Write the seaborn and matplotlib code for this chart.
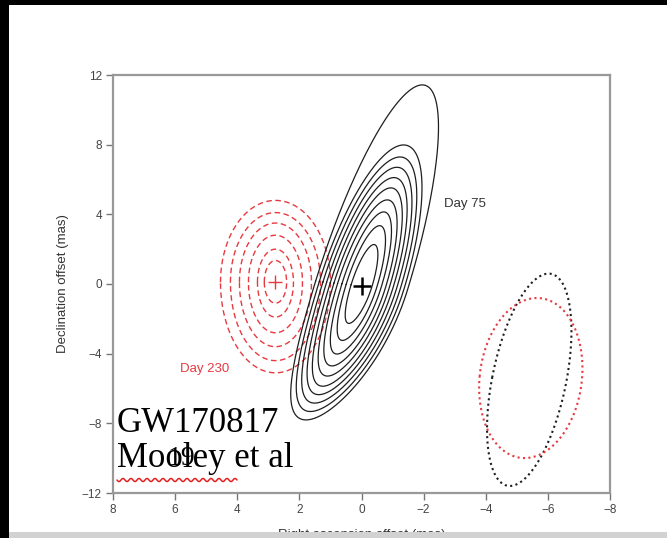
import numpy as np
import pandas as pd
import matplotlib
matplotlib.use("Agg")
import matplotlib.pyplot as plt
import seaborn as sns
from matplotlib.patches import Rectangle
from matplotlib.lines import Line2D

# ---------------- data ----------------
# Day 75 contours (black, solid): centre, extent up/down along the major axis, half-width
day75_center = [0.0, -0.1]
day75_up = [11.7, 8.2, 7.5, 6.9, 6.3, 5.7, 5.0, 4.3, 3.5, 2.4]
day75_down = [7.9, 7.4, 6.9, 6.4, 5.9, 5.3, 4.7, 4.0, 3.2, 2.2]
day75_half = [1.5, 1.38, 1.26, 1.14, 1.02, 0.9, 0.78, 0.64, 0.5, 0.34]
day75_axis = [-0.17, 0.985]
day75_bend = 0.008

# Day 230 contours (red, dashed)
day230_center = [2.77, 0.1]
day230_up = [4.7, 4.0, 3.4, 2.7, 1.9, 1.25]
day230_down = [5.2, 4.5, 3.7, 2.9, 2.0, 1.2]
day230_half = [1.77, 1.45, 1.16, 0.87, 0.58, 0.36]
day230_axis = [0.0, 1.0]
day230_bend = 0.0

# Synthesised beams (dotted ellipses): centre, semi-major, semi-minor, major-axis direction
beam75_center = [-5.4, -5.5]
beam75_axes = [6.13, 1.2]
beam75_dir = [-0.106, 0.994]
beam230_center = [-5.45, -5.4]
beam230_axes = [4.6, 1.65]
beam230_dir = [-0.05, 0.999]

x_ticks = [8, 6, 4, 2, 0, -2, -4, -6, -8]
y_ticks = [12, 8, 4, 0, -4, -8, -12]

labels_text = ["Day 75", "Day 230"]
labels_pos = [[-2.65, 4.6], [5.85, -4.9]]

RED = "#e63a40"
BLACK = "#1e1e1e"

# ---------------- helpers ----------------
theta = np.linspace(0, 2 * np.pi, 361)


def unit(v):
    v = np.asarray(v, float)
    return v / np.hypot(*v)


def contour_frame(center, ups, downs, halves, axis_dir, bend):
    du = unit(axis_dir)
    perp = np.array([du[1], -du[0]])
    rows = []
    for k, (a_up, a_dn, b) in enumerate(zip(ups, downs, halves)):
        s = np.sin(theta)
        c = np.cos(theta)
        along = np.where(s >= 0, a_up * s, a_dn * s)
        side = b * c + np.where(along < 0, bend * along ** 2, 0.0)
        pts = np.asarray(center)[None, :] + along[:, None] * du[None, :] + side[:, None] * perp[None, :]
        rows.append(pd.DataFrame({"ra": pts[:, 0], "dec": pts[:, 1], "level": k}))
    return pd.concat(rows, ignore_index=True)


def ellipse_frame(center, axes, direction):
    u = unit(direction)
    v = np.array([u[1], -u[0]])
    pts = (np.asarray(center)[None, :] + (axes[0] * np.sin(theta))[:, None] * u[None, :]
           + (axes[1] * np.cos(theta))[:, None] * v[None, :])
    return pd.DataFrame({"ra": pts[:, 0], "dec": pts[:, 1]})


# ---------------- figure ----------------
sns.set_theme(style="white")
plt.rcParams["font.family"] = ["Liberation Sans", "DejaVu Sans"]

W, H = 667, 538
fig = plt.figure(figsize=(W / 100, H / 100), dpi=100, facecolor="black")
fig.add_artist(Rectangle((9 / W, 0), 1 - 9 / W, 1 - 5 / H, transform=fig.transFigure,
                         facecolor="white", edgecolor="none", zorder=-5))

ax = fig.add_axes([113 / W, 1 - 493 / H, (610 - 113) / W, (493 - 75) / H])
ax.set_facecolor("white")

df75 = contour_frame(day75_center, day75_up, day75_down, day75_half, day75_axis, day75_bend)
df230 = contour_frame(day230_center, day230_up, day230_down, day230_half, day230_axis, day230_bend)

sns.lineplot(data=df230, x="ra", y="dec", units="level", estimator=None, sort=False,
             color=RED, lw=1.0, linestyle=(0, (4, 2.5)), legend=False, ax=ax)
sns.lineplot(data=df75, x="ra", y="dec", units="level", estimator=None, sort=False,
             color=BLACK, lw=0.9, legend=False, ax=ax)

b75 = ellipse_frame(beam75_center, beam75_axes, beam75_dir)
b230 = ellipse_frame(beam230_center, beam230_axes, beam230_dir)
sns.lineplot(data=b75, x="ra", y="dec", estimator=None, sort=False, color=BLACK,
             lw=1.5, linestyle=(0, (1, 1.6)), legend=False, ax=ax)
sns.lineplot(data=b230, x="ra", y="dec", estimator=None, sort=False, color=RED,
             lw=1.5, linestyle=(0, (1, 1.6)), legend=False, ax=ax)

centers = pd.DataFrame({"ra": [day75_center[0], day230_center[0]],
                        "dec": [day75_center[1], day230_center[1]],
                        "epoch": ["Day 75", "Day 230"]})
sns.scatterplot(data=centers.iloc[:1], x="ra", y="dec", marker="+", s=160, color="black",
                linewidth=1.8, legend=False, ax=ax, zorder=5)
sns.scatterplot(data=centers.iloc[1:], x="ra", y="dec", marker="+", s=90, color=RED,
                linewidth=1.0, legend=False, ax=ax, zorder=5)

ax.text(labels_pos[0][0], labels_pos[0][1], labels_text[0], fontsize=9.5, color="#333333",
        ha="left", va="center")
ax.text(labels_pos[1][0], labels_pos[1][1], labels_text[1], fontsize=9.5, color=RED,
        ha="left", va="center")

ax.set_xlim(8, -8)
ax.set_ylim(-12, 12)
ax.set_xticks(x_ticks)
ax.set_yticks(y_ticks)
ax.set_xticklabels([str(t).replace("-", "\u2212") for t in x_ticks])
ax.set_yticklabels([str(t).replace("-", "\u2212") for t in y_ticks])
ax.tick_params(axis="both", which="major", direction="out", length=5, width=1,
               color="#777777", labelsize=8.5, labelcolor="#444444", pad=3,
               bottom=True, left=True, top=False, right=False)
for sp in ax.spines.values():
    sp.set_color("#999999")
    sp.set_linewidth(1.6)
ax.set_xlabel("Right ascension offset (mas)", fontsize=9.5, color="#333333", labelpad=9)
ax.set_ylabel("Declination offset (mas)", fontsize=9.5, color="#333333", labelpad=9)

# slide overlay text
fig.text(117 / W, 1 - 432 / H, "GW170817", fontsize=25, family="Liberation Serif",
         color="black", ha="left", va="baseline", zorder=6)
fig.text(117 / W, 1 - 467 / H, "Mooley et al", fontsize=25, family="Liberation Serif",
         color="black", ha="left", va="baseline", zorder=6)
fig.text(168 / W, 1 - 465 / H, "19", fontsize=20, family="Liberation Serif",
         color="black", ha="left", va="baseline", zorder=7)

# spell-check squiggle under "Mooley"
sx = np.linspace(117, 237, 121)
sy = 480 + 1.6 * np.sin((sx - 117) / 8 * 2 * np.pi)
fig.add_artist(Line2D(sx / W, 1 - sy / H, transform=fig.transFigure, color="#e02020",
                      lw=1.1, zorder=7))

# bottom grey strip of the screenshot
fig.add_artist(Rectangle((9 / W, 0), 1 - 9 / W, 6 / H, transform=fig.transFigure,
                         facecolor="#d2d2d2", edgecolor="none", zorder=10))

fig.savefig("out.png", dpi=100, facecolor="black")
